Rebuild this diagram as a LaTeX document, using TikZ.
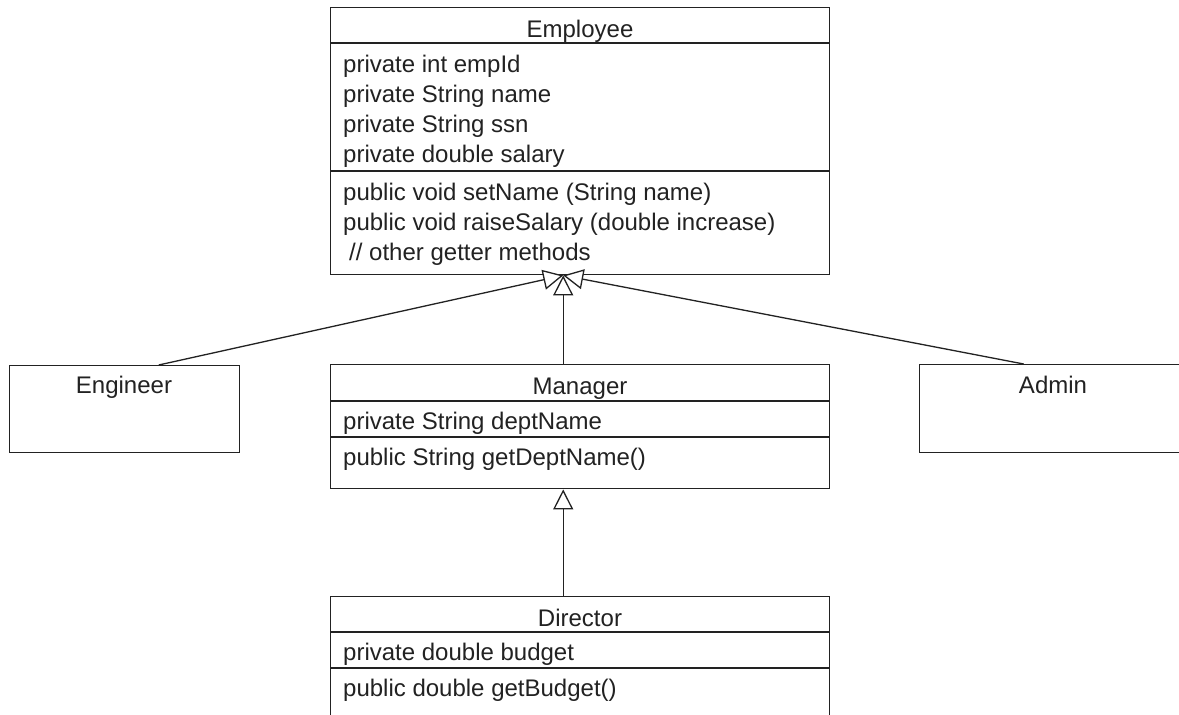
\documentclass[tikz,border=0pt]{standalone}
\usepackage{fontspec}
\setmainfont{Liberation Sans}
\usetikzlibrary{arrows.meta}
\definecolor{linec}{HTML}{222222}
\definecolor{txtc}{HTML}{222222}
\begin{document}
\begin{tikzpicture}[x=1pt,y=-1pt,
  box/.style={draw=linec, line width=1.4pt, rectangle, inner sep=0pt, anchor=north west},
  divider/.style={draw=linec, line width=1.4pt},
  txt/.style={inner sep=0pt, font=\fontsize{24pt}{30pt}\selectfont, text=txtc},
  attr/.style={txt, anchor=base west},
  cname/.style={txt, anchor=base},
  inh/.style={draw=linec, line width=1.3pt, -{Triangle[open, length=20pt, width=20pt, fill=white]}}]
\useasboundingbox (0,0) rectangle (1179,715);
\clip (0,0) rectangle (1179,715);
\fill[white] (0,0) rectangle (1179,715);

% Employee
\node[box, minimum width=499pt, minimum height=267pt] (employee) at (330,7) {};
\draw[divider] ([yshift=-36pt]employee.north west) -- ([yshift=-36pt]employee.north east);
\draw[divider] ([yshift=-164pt]employee.north west) -- ([yshift=-164pt]employee.north east);
\node[cname] (empname) at (580,37) {Employee};
\node[attr] (ea1) at (343,72) {private int empId};
\node[attr] (ea2) at (343,102) {private String name};
\node[attr] (ea3) at (343,132) {private String ssn};
\node[attr] (ea4) at (343,162) {private double salary};
\node[attr] (em1) at (343,200) {public void setName (String name)};
\node[attr] (em2) at (343,230) {public void raiseSalary (double increase)};
\node[attr] (em3) at (349,260) {// other getter methods};

% Engineer
\node[box, minimum width=230pt, minimum height=87pt] (engineer) at (9,365) {};
\node[cname] (engname) at (124,393) {Engineer};

% Manager
\node[box, minimum width=499pt, minimum height=124pt] (manager) at (330,364) {};
\draw[divider] ([yshift=-37pt]manager.north west) -- ([yshift=-37pt]manager.north east);
\draw[divider] ([yshift=-73pt]manager.north west) -- ([yshift=-73pt]manager.north east);
\node[cname] (mgrname) at (580,394) {Manager};
\node[attr] (ma1) at (343,429) {private String deptName};
\node[attr] (mm1) at (343,465) {public String getDeptName()};

% Admin
\node[box, minimum width=268pt, minimum height=88pt] (admin) at (919,364) {};
\node[cname] (admname) at (1053,393) {Admin};

% Director
\node[box, minimum width=499pt, minimum height=150pt] (director) at (330,596) {};
\draw[divider] ([yshift=-36pt]director.north west) -- ([yshift=-36pt]director.north east);
\draw[divider] ([yshift=-72pt]director.north west) -- ([yshift=-72pt]director.north east);
\node[cname] (dirname) at (580,626) {Director};
\node[attr] (da1) at (343,660) {private double budget};
\node[attr] (dm1) at (343,696) {public double getBudget()};

% Inheritance connectors
\coordinate (apex) at ([xshift=-17pt]employee.south);
\draw[inh] ([xshift=34pt]engineer.north) -- (apex);
\draw[inh] ([xshift=-30pt]admin.north) -- (apex);
\draw[inh] ([xshift=-17pt]manager.north) -- (apex);
\draw[inh] ([xshift=-17pt]director.north) -- ([xshift=-17pt]manager.south);
\end{tikzpicture}
\end{document}
